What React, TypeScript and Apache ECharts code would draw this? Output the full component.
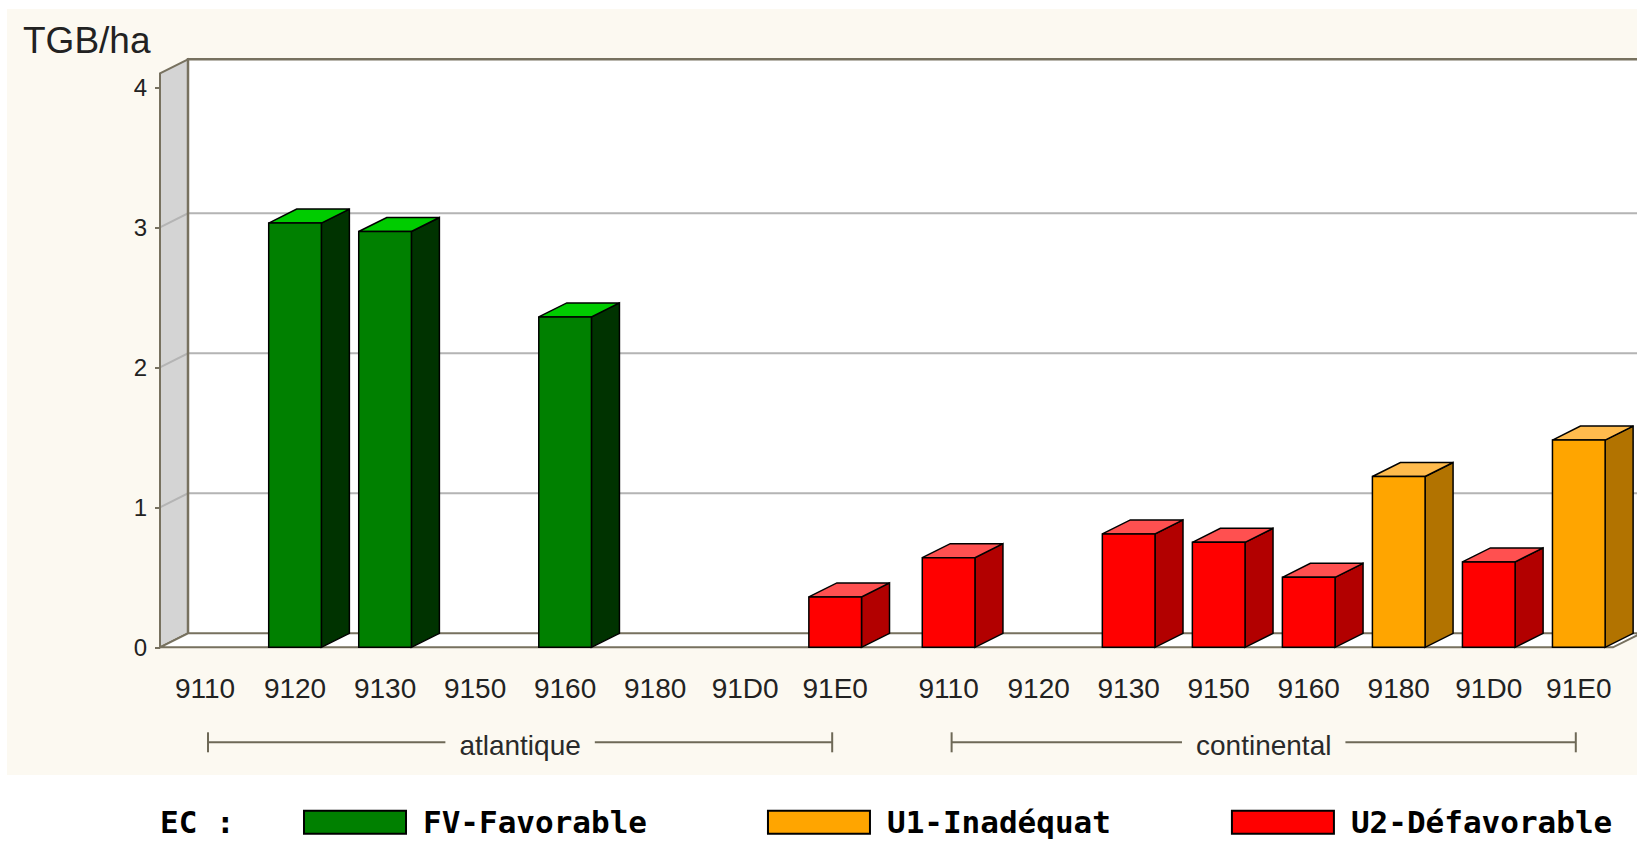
import React, { useEffect, useRef } from "react";
import * as echarts from "echarts";

// ---------- data ----------
const regions = ["atlantique", "continental"];
const habitats = ["9110", "9120", "9130", "9150", "9160", "9180", "91D0", "91E0"];
const atlantiqueValues = [null, 3.03, 2.97, null, 2.36, null, null, 0.36];
const atlantiqueStatus = [null, "FV", "FV", null, "FV", null, null, "U2"];
const continentalValues = [0.64, null, 0.81, 0.75, 0.5, 1.22, 0.61, 1.48];
const continentalStatus = ["U2", null, "U2", "U2", "U2", "U1", "U2", "U1"];
const statusKeys = ["FV", "U1", "U2"];
const statusLabels = ["FV-Favorable", "U1-Inadéquat", "U2-Défavorable"];
const yTicks = [0, 1, 2, 3, 4];
const yMax = 4.1;
const yAxisName = "TGB/ha";
const legendTitle = "EC :";

const regionValues = [atlantiqueValues, continentalValues];
const regionStatus = [atlantiqueStatus, continentalStatus];

// ---------- style / layout ----------
const COLORS: Record<string, { front: string; side: string; top: string }> = {
  FV: { front: "#008000", side: "#003300", top: "#00cc00" },
  U1: { front: "#ffa500", side: "#b27300", top: "#ffbb4d" },
  U2: { front: "#ff0000", side: "#b20000", top: "#ff5050" },
};
const FRAME = "#77715f";
const GRID_COLOR = "#b4b4b4";
const DX = 28;
const DY = -14;
const BAR_W = 0.585;
const GROUP_GAP = 0.26;
const pos = (r: number, i: number) => r * (habitats.length + GROUP_GAP) + i;
const X_MIN = -0.5;
const X_MAX = pos(regions.length - 1, habitats.length - 1) + 0.38;
const SANS = "'Liberation Sans', Arial, sans-serif";
const MONO = "'DejaVu Sans Mono', monospace";
const LEGEND_FONT = 31;

const measure = (text: string, font: string) => {
  const c = document.createElement("canvas").getContext("2d");
  if (!c) return text.length * 12;
  c.font = font;
  return c.measureText(text).width;
};

export default function App() {
  const ref = useRef<HTMLDivElement>(null);
  useEffect(() => {
    if (!ref.current) return;
    const chart = echarts.init(ref.current, undefined, { renderer: "svg" });

    const allPos: number[] = [];
    const allLabels: string[] = [];
    regions.forEach((_, r) =>
      habitats.forEach((h, i) => {
        allPos.push(pos(r, i));
        allLabels.push(h);
      })
    );

    const barSeries = statusKeys.map((key, k) => {
      const data: any[] = [];
      regions.forEach((_, r) => {
        regionValues[r].forEach((v, i) => {
          if (v != null && regionStatus[r][i] === key) data.push([pos(r, i), v, habitats[i]]);
        });
      });
      const c = COLORS[key];
      return {
        type: "custom",
        name: statusLabels[k],
        z: 3,
        clip: false,
        itemStyle: { color: c.front, borderColor: "#000", borderWidth: 2 },
        data,
        renderItem: (params: any, api: any) => {
          const x = api.value(0);
          const v = api.value(1);
          const fl = api.coord([x - BAR_W / 2, 0]);
          const fr = api.coord([x + BAR_W / 2, 0]);
          const tl = api.coord([x - BAR_W / 2, v]);
          const tr = api.coord([x + BAR_W / 2, v]);
          const sh = (p: number[]) => [p[0] + DX, p[1] + DY];
          const st = { stroke: "#000", lineWidth: 1.5 };
          return {
            type: "group",
            children: [
              { type: "polygon", shape: { points: [fr, tr, sh(tr), sh(fr)] }, style: { fill: c.side, ...st } },
              { type: "polygon", shape: { points: [tl, tr, sh(tr), sh(tl)] }, style: { fill: c.top, ...st } },
              {
                type: "rect",
                shape: { x: tl[0], y: tl[1], width: fr[0] - fl[0], height: fl[1] - tl[1] },
                style: { fill: c.front, ...st },
              },
            ],
          };
        },
      };
    });

    const frameSeries = {
      type: "custom",
      name: "frame",
      z: 1,
      silent: true,
      clip: false,
      data: [[X_MIN, yMax]],
      renderItem: (params: any, api: any) => {
        const F = (x: number, y: number) => api.coord([x, y]);
        const B = (x: number, y: number) => {
          const p = api.coord([x, y]);
          return [p[0] + DX, p[1] + DY];
        };
        const ch: any[] = [];
        const bl = B(X_MIN, 0);
        const tr = B(X_MAX, yMax);
        ch.push({
          type: "rect",
          shape: { x: bl[0], y: tr[1], width: tr[0] - bl[0] + 40, height: bl[1] - tr[1] },
          style: { fill: "#ffffff" },
        });
        ch.push({
          type: "polygon",
          shape: { points: [F(X_MIN, 0), F(X_MIN, yMax), B(X_MIN, yMax), B(X_MIN, 0)] },
          style: { fill: "#d4d4d4", stroke: FRAME, lineWidth: 2 },
        });
        ch.push({
          type: "polygon",
          shape: { points: [F(X_MIN, 0), F(X_MAX, 0), B(X_MAX, 0), B(X_MIN, 0)] },
          style: { fill: "#ffffff", stroke: FRAME, lineWidth: 2 },
        });
        yTicks.forEach((v) => {
          if (v <= 0 || v >= yMax - 0.5) return;
          ch.push({
            type: "polyline",
            shape: { points: [F(X_MIN, v), B(X_MIN, v), [B(X_MAX, v)[0] + 40, B(X_MAX, v)[1]]] },
            style: { fill: null, stroke: GRID_COLOR, lineWidth: 2 },
          });
        });
        ch.push({
          type: "polyline",
          shape: { points: [B(X_MIN, 0), B(X_MIN, yMax), [B(X_MAX, yMax)[0] + 40, B(X_MAX, yMax)[1]]] },
          style: { fill: null, stroke: FRAME, lineWidth: 2.5 },
        });
        ch.push({
          type: "line",
          shape: { x1: F(X_MIN, 0)[0], y1: F(X_MIN, 0)[1], x2: F(X_MIN, yMax)[0], y2: F(X_MIN, yMax)[1] },
          style: { stroke: FRAME, lineWidth: 2 },
        });
        // region brackets
        const font = `28px ${SANS}`;
        regions.forEach((name, r) => {
          const x0 = F(pos(r, 0), 0)[0] + 3;
          const x1 = F(pos(r, habitats.length - 1), 0)[0] - 3;
          const yl = F(0, 0)[1] + 95;
          const cx = (x0 + x1) / 2;
          const w = measure(name, font);
          const gapL = cx - w / 2 - 14;
          const gapR = cx + w / 2 + 14;
          const ls = { stroke: "#6e6957", lineWidth: 2 };
          ch.push({ type: "line", shape: { x1: x0, y1: yl, x2: gapL, y2: yl }, style: ls });
          ch.push({ type: "line", shape: { x1: gapR, y1: yl, x2: x1, y2: yl }, style: ls });
          ch.push({ type: "line", shape: { x1: x0, y1: yl - 10, x2: x0, y2: yl + 10 }, style: ls });
          ch.push({ type: "line", shape: { x1: x1, y1: yl - 10, x2: x1, y2: yl + 10 }, style: ls });
          ch.push({
            type: "text",
            style: {
              text: name,
              x: cx,
              y: yl + 3,
              align: "center",
              verticalAlign: "middle",
              fill: "#2a2a2a",
              fontSize: 28,
              fontFamily: SANS,
            },
          });
        });
        return { type: "group", children: ch };
      },
    };

    chart.setOption({
      animation: false,
      backgroundColor: "#ffffff",
      title: {
        text: yAxisName,
        left: 18,
        top: 17,
        textStyle: { fontFamily: SANS, fontSize: 37, fontWeight: "normal", color: "#222" },
      },
      graphic: [
        {
          type: "rect",
          z: -100,
          silent: true,
          shape: { x: 7, y: 9, width: 1640, height: 766 },
          style: { fill: "#fcf9f1" },
        },
        {
          type: "text",
          left: 160,
          top: 806.5,
          style: {
            text: legendTitle,
            fontFamily: MONO,
            fontWeight: "bold",
            fontSize: LEGEND_FONT,
            fill: "#000",
          },
        },
      ],
      legend: {
        left: 303,
        top: 806.7,
        itemWidth: 102,
        itemHeight: 23,
        itemGap: 120,
        icon: "rect",
        padding: 0,
        itemStyle: { borderColor: "#000", borderWidth: 2 },
        textStyle: {
          fontFamily: MONO,
          fontWeight: "bold",
          fontSize: LEGEND_FONT,
          color: "#000",
          padding: [0, 0, 0, 12],
        },
        data: statusLabels,
      },
      grid: { left: 160, right: 24, top: 73.3, bottom: 194.7 },
      xAxis: {
        type: "value",
        min: X_MIN,
        max: X_MAX,
        axisLine: { show: false, onZero: false },
        axisTick: { show: false },
        minorTick: { show: false },
        splitLine: { show: false },
        axisLabel: {
          customValues: allPos,
          formatter: (v: number) => {
            const idx = allPos.findIndex((p) => Math.abs(p - v) < 1e-6);
            return idx >= 0 ? allLabels[idx] : "";
          },
          fontFamily: SANS,
          fontSize: 28,
          color: "#222",
          margin: 27,
        },
      },
      yAxis: {
        type: "value",
        min: 0,
        max: yMax,
        axisLine: { show: false, onZero: false },
        splitLine: { show: false },
        axisTick: { show: true, customValues: yTicks, length: 5, lineStyle: { color: FRAME, width: 2 } },
        axisLabel: {
          customValues: yTicks,
          fontFamily: SANS,
          fontSize: 24,
          color: "#222",
          margin: 13,
        },
      },
      series: [frameSeries, ...barSeries],
    });

    return () => chart.dispose();
  }, []);

  return (
    <div
      ref={ref}
      style={{ position: "fixed", left: 0, top: 0, width: "1637px", height: "842px" }}
    />
  );
}
